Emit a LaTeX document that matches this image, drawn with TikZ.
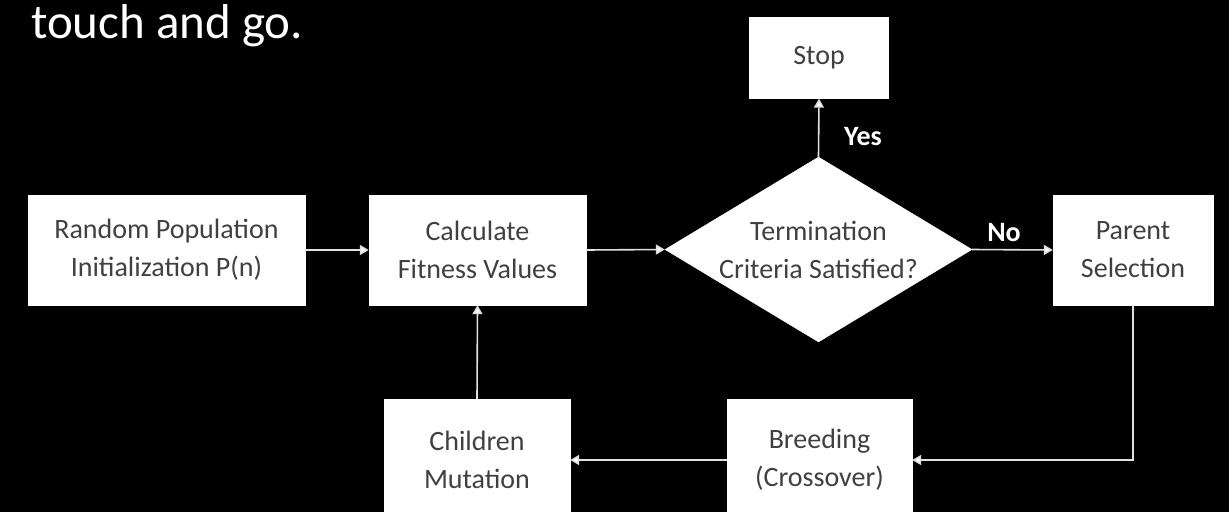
\documentclass[tikz,border=0pt]{standalone}
\usepackage{fontspec}
\setmainfont{Carlito}
\usetikzlibrary{shapes.geometric,arrows.meta}
\begin{document}
\begin{tikzpicture}[x=1pt,y=-1pt,
  box/.style={draw=white, fill=white, rectangle, inner sep=0pt, font=\fontsize{28}{38}\selectfont, text=black!75, align=center},
  conn/.style={draw=black!12, line width=1.6pt, -{Triangle[width=10pt,length=9pt,fill=white]}},
  lbl/.style={text=white, font=\fontsize{28}{32}\selectfont\bfseries, inner sep=0pt}]
\fill[black] (0,0) rectangle (1229,512);
\clip (0,0) rectangle (1229,512);
\node[anchor=base west, inner sep=0pt, text=white, font=\fontsize{49}{56}\selectfont] (title) at (31,38) {touch and go.};
\node[box, minimum width=139pt, minimum height=81pt] (stop) at (819,58) {Stop};
\node[box, minimum width=277pt, minimum height=110pt] (rand) at (166.5,250) {Random Population\\Initialization P(n)};
\node[box, minimum width=217pt, minimum height=110pt] (calc) at (477.5,250) {Calculate\\Fitness Values};
\node[draw=white, fill=white, diamond, inner sep=0pt, minimum width=307pt, minimum height=185pt] (dia) at (818.5,249.5) {};
\node[box, fill=none, draw=none] (diatext) at (dia.center) {Termination\\Criteria Satisfied?};
\node[box, minimum width=160pt, minimum height=110pt] (parent) at (1133,250) {Parent\\Selection};
\node[box, minimum width=186pt, minimum height=122pt] (child) at (477,460) {Children\\Mutation};
\node[box, minimum width=185pt, minimum height=122pt] (breed) at (819.5,460) {Breeding\\(Crossover)};
\draw[conn] (rand.east) -- (calc.west);
\draw[conn] (calc.east) -- (dia.west);
\draw[conn] (dia.east) -- (parent.west);
\node[lbl] (no) at (1004,233) {No};
\draw[conn] (dia.north) -- (stop.south);
\node[lbl] (yes) at (863,137) {Yes};
\draw[conn] (parent.south) |- (breed.east);
\draw[conn] (breed.west) -- (child.east);
\draw[conn] (child.north) -- (calc.south);
\end{tikzpicture}
\end{document}
